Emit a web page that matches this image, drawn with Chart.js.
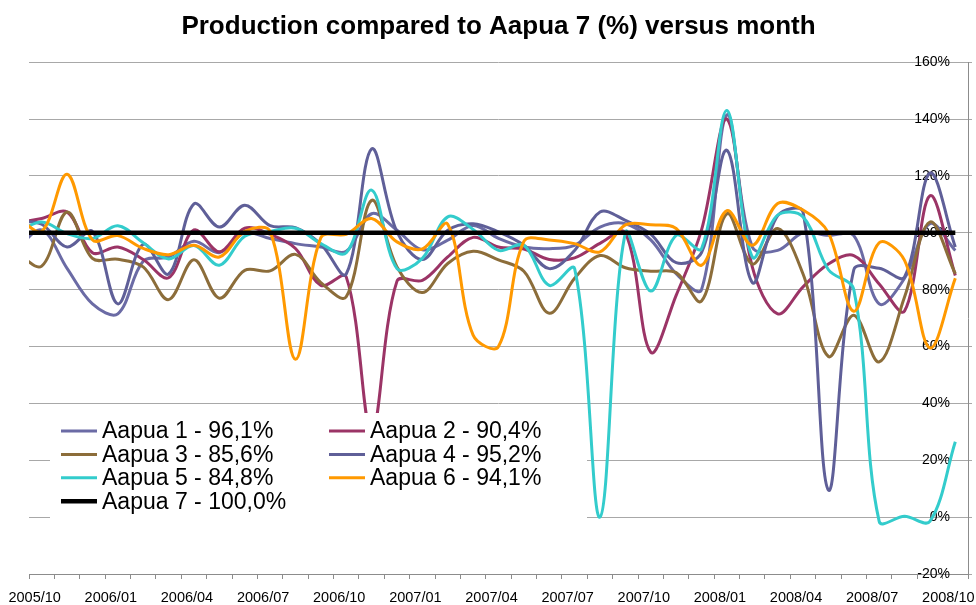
<!DOCTYPE html>
<html>
<head>
<meta charset="utf-8">
<script src="https://cdn.jsdelivr.net/npm/chart.js@4.4.1/dist/chart.umd.min.js"></script>
<style>
  body { margin: 0; background: #fff; }
  #wrap { width: 976px; height: 605px; }
</style>
</head>
<body>
<div id="wrap"><canvas id="chart" width="976" height="605"></canvas></div>
<script>
// months; the first one (2005/09) lies left of the axis start and is clipped
const months = [
  '2005/09', '2005/10', '2005/11', '2005/12', '2006/01', '2006/02', '2006/03', '2006/04',
  '2006/05', '2006/06', '2006/07', '2006/08', '2006/09', '2006/10', '2006/11', '2006/12',
  '2007/01', '2007/02', '2007/03', '2007/04', '2007/05', '2007/06', '2007/07', '2007/08',
  '2007/09', '2007/10', '2007/11', '2007/12', '2008/01', '2008/02', '2008/03', '2008/04',
  '2008/05', '2008/06', '2008/07', '2008/08', '2008/09', '2008/10'
];

const aapua1 = [94, 101, 87.5, 75, 71.5, 90, 91.5, 97, 93, 100, 98, 96.2, 95, 93.5, 106.7, 100.9,
  94, 97.4, 102.6, 98, 95, 94.4, 95.6, 102, 103.2, 97.5, 85.6, 80, 141.5, 95, 93.8, 100,
  99.1, 99, 75, 84, 103.2, 93.8];
const aapua2 = [103.5, 105, 107.3, 93, 95, 90.6, 84.2, 101, 93.3, 101.6, 99.5, 94.5, 81.5, 84.5, 30, 83,
  83.3, 91.5, 98.4, 95, 94.3, 90.6, 91.2, 96.3, 100, 58, 78, 101, 140, 88, 71.5, 81,
  89, 92, 82, 72.5, 113, 85];
const aapua3 = [93, 88.3, 107.3, 91, 90.7, 88, 76.5, 90.5, 77, 86.8, 86.6, 92.4, 82.5, 77.5, 111.4, 88,
  79, 89.2, 93.5, 90.5, 86.5, 71.7, 84, 92, 87.7, 86.5, 86, 76, 106.7, 89, 101.5, 85.5,
  56.5, 71, 54.6, 77.4, 103.8, 85.6];
const aapua4 = [104, 103, 95, 100.5, 75, 96, 85.5, 110.2, 102, 109.7, 102.5, 101.8, 96, 85.5, 129.5, 100.3,
  90.6, 100.9, 103.2, 100.3, 95.6, 87.4, 93.8, 107.3, 104.4, 99.5, 89.5, 93, 129, 82.5, 106, 107.3,
  9.5, 87, 87.5, 84.5, 121, 95];
const aapua5 = [100, 103.8, 99.7, 98, 102.5, 96.5, 90.8, 95.5, 88.6, 98.8, 100.5, 101.6, 96.2, 93, 115, 87.4,
  91, 105.6, 101.2, 93.8, 95.6, 81.5, 87.4, 0, 100, 79.5, 99.1, 94.4, 143, 91.5, 106.2, 105.6,
  87, 80, -1.5, 0.3, -1.5, 26.5];
const aapua6 = [106, 100.5, 120.6, 97.5, 99, 94.5, 92.3, 95.6, 91.5, 100.5, 100.5, 55.5, 98.3, 99.5, 105, 96.8,
  94.3, 103, 64, 60, 97, 97.5, 96.2, 93.3, 102.8, 102.8, 101.5, 88.6, 107.8, 95.6, 110.3, 108,
  100, 72.4, 96.5, 90.3, 59.5, 84];
const aapua7 = [100, 100, 100, 100, 100, 100, 100, 100, 100, 100, 100, 100, 100, 100, 100, 100,
  100, 100, 100, 100, 100, 100, 100, 100, 100, 100, 100, 100, 100, 100, 100, 100,
  100, 100, 100, 100, 100, 100];

const seriesNames = ['Aapua 1 - 96,1%', 'Aapua 2 - 90,4%', 'Aapua 3 - 85,6%', 'Aapua 4 - 95,2%',
  'Aapua 5 - 84,8%', 'Aapua 6 - 94,1%', 'Aapua 7 - 100,0%'];
const seriesData = [aapua1, aapua2, aapua3, aapua4, aapua5, aapua6, aapua7];
const seriesColors = ['#6b6ba5', '#9b3466', '#8c6d3a', '#5f5f98', '#33cccc', '#ff9900', '#000000'];
const seriesWidths = [3, 3, 3, 3, 3, 3, 4.5];

const FONT = '"Liberation Sans", Arial, sans-serif';

// legend sits inside the plot on a white box, two columns
const boxLegend = {
  id: 'boxLegend',
  afterDatasetsDraw(chart) {
    const ctx = chart.ctx;
    ctx.save();
    ctx.fillStyle = '#fff';
    ctx.fillRect(50, 413, 537, 115);
    ctx.font = '23px ' + FONT;
    ctx.textBaseline = 'middle';
    chart.data.datasets.forEach((ds, i) => {
      const x = i % 2 ? 329 : 61;
      const y = 431 + Math.floor(i / 2) * 23.4;
      ctx.strokeStyle = ds.borderColor;
      ctx.lineWidth = ds.borderWidth;
      ctx.beginPath();
      ctx.moveTo(x, y);
      ctx.lineTo(x + 36, y);
      ctx.stroke();
      ctx.fillStyle = '#000';
      ctx.fillText(ds.label, x + 41, y + 1);
    });
    ctx.restore();
  }
};

new Chart(document.getElementById('chart'), {
  type: 'line',
  data: {
    labels: months,
    datasets: seriesNames.map((name, i) => ({
      label: name,
      data: seriesData[i],
      borderColor: seriesColors[i],
      backgroundColor: seriesColors[i],
      borderWidth: seriesWidths[i],
      pointRadius: 0,
      tension: 0.35,
      clip: 0,
      order: 6 - i
    }))
  },
  options: {
    responsive: false,
    animation: false,
    layout: { padding: { left: 29, right: 0, top: 0, bottom: 0 } },
    plugins: {
      legend: { display: false },
      tooltip: { enabled: false },
      title: {
        display: true,
        text: 'Production compared to Aapua 7 (%) versus month',
        fullSize: false,
        color: '#000',
        font: { family: FONT, size: 26, weight: 'bold' },
        padding: { top: 11, bottom: 20 }
      }
    },
    scales: {
      x: {
        type: 'category',
        min: '2005/10',
        max: '2008/10',
        offset: true,
        afterFit: s => { s.height = 31; s.paddingLeft = 0; s.paddingRight = 0; },
        grid: {
          offset: true,
          drawOnChartArea: false,
          drawTicks: true,
          tickLength: 5,
          color: '#8c8c8c'
        },
        border: { display: true, color: '#8c8c8c' },
        ticks: {
          autoSkip: false,
          maxRotation: 0,
          labelOffset: -7,
          padding: 10,
          color: '#000',
          font: { family: FONT, size: 14.5 },
          callback: function (value) {
            const lbl = this.getLabelForValue(value);
            return /\/(01|04|07|10)$/.test(lbl) ? lbl : '';
          }
        }
      },
      y: {
        position: 'right',
        min: -20,
        max: 160,
        afterFit: s => { s.width = 8; },
        grid: { color: '#a8a8a8', tickLength: 4 },
        border: { display: true, color: '#8c8c8c' },
        ticks: {
          stepSize: 20,
          mirror: true,
          padding: -18,
          color: '#000',
          font: { family: FONT, size: 14 },
          callback: v => v + '%'
        }
      }
    }
  },
  plugins: [boxLegend]
});
</script>
</body>
</html>
